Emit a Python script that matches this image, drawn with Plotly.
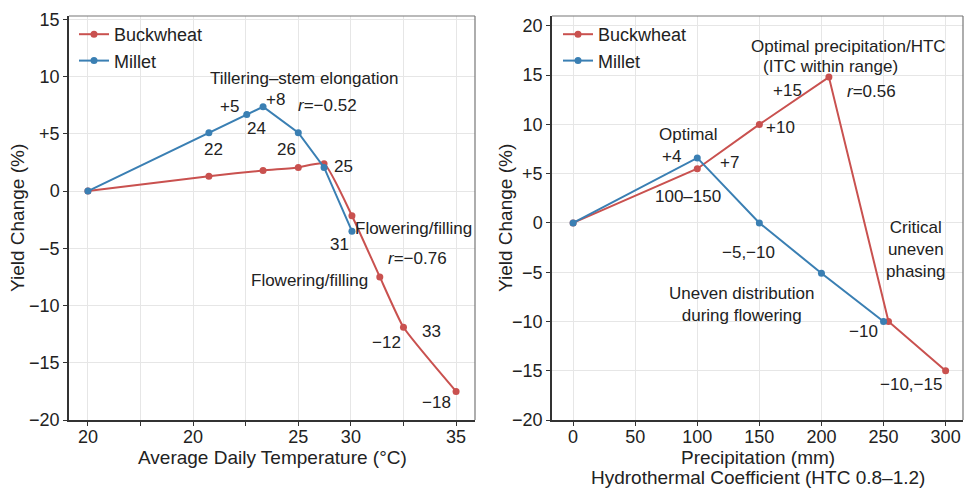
import plotly.graph_objects as go

# ---------------- data ----------------
# Left panel: x in axis position units (tick labels below)
temp_tickvals = [0, 1, 2, 3, 4, 5, 6, 7]
temp_ticktext = ["20", "", "20", "", "25", "30", "", "35"]

buck_temp_x = [0, 2.3, 3.33, 4.0, 4.49, 5.02, 5.55, 6.0, 7.0]
buck_temp_y = [0, 1.3, 1.8, 2.07, 2.4, -2.15, -7.5, -11.9, -17.5]

mil_temp_x = [0, 2.3, 3.02, 3.33, 4.0, 4.49, 5.02]
mil_temp_y = [0, 5.1, 6.7, 7.37, 5.1, 2.07, -3.5]

# Right panel: precipitation (mm)
buck_prec_x = [0, 100, 150, 206, 254, 300]
buck_prec_y = [0, 5.5, 10, 14.8, -10, -15]

mil_prec_x = [0, 100, 150, 200, 250]
mil_prec_y = [0, 6.6, 0, -5.1, -10]

left_yticks = [15, 10, 5, 0, -5, -10, -15, -20]
left_yticktext = ["15", "10", "+5", "0", "\u22125", "\u221210", "\u221215", "\u221220"]
right_yticks = [20, 15, 10, 5, 0, -5, -10, -15, -20]
right_yticktext = ["20", "15", "10", "+5", "0", "\u22125", "\u221210", "\u221215", "\u221220"]
prec_ticks = [0, 50, 100, 150, 200, 250, 300]

left_labels = [
    ("Tillering\u2013stem elongation", 4.11, 9.85),
    ("+5", 2.70, 7.40),
    ("+8", 3.56, 8.0),
    ("<i>r</i>=\u22120.52", 4.56, 7.45),
    ("24", 3.21, 5.44),
    ("22", 2.38, 3.62),
    ("26", 3.78, 3.62),
    ("25", 4.85, 2.16),
    ("Flowering/filling", 6.20, -3.28),
    ("31", 4.79, -4.66),
    ("<i>r</i>=\u22120.76", 6.27, -5.86),
    ("Flowering/filling", 4.22, -7.84),
    ("\u221212", 5.68, -13.2),
    ("33", 6.54, -12.26),
    ("\u221218", 6.63, -18.5),
]
right_labels = [
    ("Optimal precipitation/HTC", 221.8, 17.95),
    ("(ITC within range)", 207, 15.85),
    ("+15", 172.6, 13.45),
    ("<i>r</i>=0.56", 240.3, 13.3),
    ("+10", 167, 9.7),
    ("Optimal", 92.7, 9.0),
    ("+4", 79, 6.76),
    ("+7", 125.8, 6.18),
    ("100\u2013150", 92.7, 2.7),
    ("Critical<br>uneven<br>phasing", 275.8, -2.7),
    ("\u22125,\u221210", 141, -2.96),
    ("Uneven distribution<br>during flowering", 136.3, -8.3),
    ("\u221210", 233.9, -11.06),
    ("\u221210,\u221215", 271.8, -16.4),
]

RED = "#c9514f"
BLUE = "#3a7fb3"
FONT = "Liberation Sans, Arial, sans-serif"
TXT = "#222222"

fig = go.Figure()

def add_series(x, y, name, color, xa, ya, legend, shape="linear"):
    fig.add_trace(go.Scatter(
        x=x, y=y, name=name, mode="lines+markers",
        line=dict(color=color, width=2, shape=shape, smoothing=0.45),
        marker=dict(color=color, size=7),
        xaxis=xa, yaxis=ya, legend=legend,
    ))

add_series(buck_temp_x, buck_temp_y, "Buckwheat", RED, "x", "y", "legend", "spline")
add_series(mil_temp_x, mil_temp_y, "Millet", BLUE, "x", "y", "legend")
add_series(buck_prec_x, buck_prec_y, "Buckwheat", RED, "x2", "y2", "legend2")
add_series(mil_prec_x, mil_prec_y, "Millet", BLUE, "x2", "y2", "legend2")

W, H = 965, 491
ML, MR, MT, MB = 69, 2, 16, 71
pw = W - ML - MR
ph = H - MT - MB
d1 = [0, (475 - ML) / pw]
d2 = [(552 - ML) / pw, 1]

def px_x(px):
    return (px - ML) / pw

def px_y(py):
    return (H - MB - py) / ph

axis_common = dict(
    showgrid=True, gridcolor="#e6e6e6", gridwidth=1,
    showline=True, linecolor="#333333", linewidth=1.5,
    ticks="outside", ticklen=4, tickcolor="#333333",
    tickfont=dict(family=FONT, size=18, color=TXT),
    zeroline=False, mirror=False, automargin=False,
)

fig.update_layout(
    width=W, height=H,
    margin=dict(l=ML, r=MR, t=MT, b=MB, autoexpand=False),
    paper_bgcolor="white", plot_bgcolor="white",
    font=dict(family=FONT, color=TXT, size=17),
    xaxis=dict(domain=d1, range=[-0.36, 7.36], tickvals=temp_tickvals, ticktext=temp_ticktext,
               ticklabelstandoff=-4, **axis_common),
    yaxis=dict(range=[-20, 15.3], tickvals=left_yticks, ticktext=left_yticktext,
               anchor="x", **axis_common),
    xaxis2=dict(domain=d2, range=[-17, 314], tickvals=prec_ticks, anchor="y2",
                ticklabelstandoff=-4, **axis_common),
    yaxis2=dict(range=[-20, 21], tickvals=right_yticks, ticktext=right_yticktext, anchor="x2",
                **axis_common),
    legend=dict(x=px_x(74), y=1.0, xanchor="left", yanchor="top",
                bgcolor="rgba(255,255,255,0)", font=dict(size=18, color=TXT),
                tracegroupgap=0, itemwidth=30),
    legend2=dict(x=px_x(558), y=1.0, xanchor="left", yanchor="top",
                 bgcolor="rgba(255,255,255,0)", font=dict(size=18, color=TXT),
                 tracegroupgap=0, itemwidth=30),
    showlegend=True,
)

# top/right frame edges (lighter)
for xr, yr in (("x domain", "y domain"), ("x2 domain", "y2 domain")):
    fig.add_shape(type="line", xref=xr, yref=yr, x0=0, x1=1, y0=1, y1=1,
                  line=dict(color="#777777", width=1.2))
    fig.add_shape(type="line", xref=xr, yref=yr, x0=1, x1=1, y0=0, y1=1,
                  line=dict(color="#777777", width=1.2))

# axis titles
title_font = dict(size=19, color=TXT, family=FONT)
fig.add_annotation(text="Average Daily Temperature (\u00b0C)", xref="x domain", yref="paper",
                   x=0.5, y=px_y(457), xanchor="center", yanchor="middle",
                   showarrow=False, font=title_font)
fig.add_annotation(text="Precipitation (mm)", xref="x2 domain", yref="paper",
                   x=0.5, y=px_y(457), xanchor="center", yanchor="middle",
                   showarrow=False, font=title_font)
fig.add_annotation(text="Hydrothermal Coefficient (HTC 0.8\u20131.2)", xref="x2 domain", yref="paper",
                   x=0.5, y=px_y(478), xanchor="center", yanchor="middle",
                   showarrow=False, font=title_font)
fig.add_annotation(text="Yield Change (%)", xref="paper", yref="y domain",
                   x=px_x(17), y=0.5, xanchor="center", yanchor="middle", textangle=-90,
                   showarrow=False, font=title_font)
fig.add_annotation(text="Yield Change (%)", xref="paper", yref="y2 domain",
                   x=px_x(505), y=0.5, xanchor="center", yanchor="middle", textangle=-90,
                   showarrow=False, font=title_font)

for text, x, y in left_labels:
    fig.add_annotation(text=text, x=x, y=y, xref="x", yref="y", showarrow=False,
                       font=dict(size=17, color=TXT, family=FONT))
for text, x, y in right_labels:
    fig.add_annotation(text=text, x=x, y=y, xref="x2", yref="y2", showarrow=False,
                       font=dict(size=17, color=TXT, family=FONT))

fig.write_html("out.html", config={"displayModeBar": False},
               post_script="document.body.style.margin='0';")
